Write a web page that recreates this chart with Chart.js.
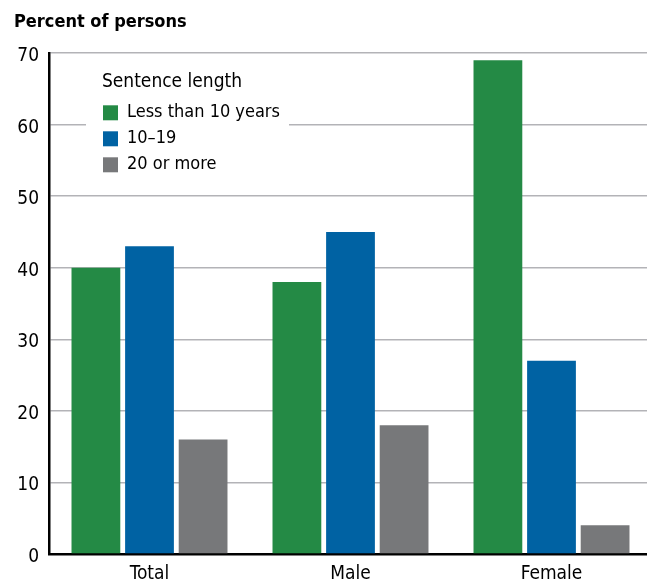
<!DOCTYPE html>
<html><head><meta charset="utf-8">
<script src="https://cdn.jsdelivr.net/npm/chart.js@4"></script>
<style>html,body{margin:0;padding:0;background:#fff;overflow:hidden;width:647px;height:584px}
#wrap{width:653px;height:584px}</style></head>
<body><div id="wrap"><canvas id="c" width="653" height="584"></canvas></div>
<script>
const categories = ['Total', 'Male', 'Female'];
const seriesNames = ['Less than 10 years', '10–19', '20 or more'];
const lessThan10 = [40, 38, 69];
const tenTo19 = [43, 45, 27];
const twentyPlus = [16, 18, 4];
const yTicks = [0, 10, 20, 30, 40, 50, 60, 70];
const colors = ['#248A45', '#0062A3', '#77787A'];
const FONT = "'Liberation Sans Narrow','DejaVu Sans Condensed',sans-serif";

const legendPlace = {
  id: 'legendPlace',
  afterLayout(chart) {
    const lg = chart.legend;
    lg.left = 95; lg.top = 58; lg.width = 154; lg.right = 300; lg.height = 125; lg.bottom = 183;
    chart._layers.push({z: -0.5, _idx: 999, draw() {
      const ctx = chart.ctx; ctx.save(); ctx.fillStyle = '#fff';
      ctx.fillRect(86, 58, 203, 124); ctx.restore();
    }});
  }
};

const series = [lessThan10, tenTo19, twentyPlus];
new Chart(document.getElementById('c'), {
  type: 'bar',
  data: {
    labels: categories,
    datasets: series.map((d, i) => ({
      label: seriesNames[i], data: d, backgroundColor: colors[i], borderWidth: 0,
      barPercentage: 0.91, categoryPercentage: 0.80
    }))
  },
  options: {
    responsive: false, animation: false, devicePixelRatio: 1,
    layout: {padding: {left: 14, right: 1, top: 0, bottom: 0}},
    scales: {
      x: {
        grid: {drawOnChartArea: false, drawTicks: false},
        border: {color: '#000', width: 2.5},
        afterFit: s => { s.height = 30; },
        ticks: {font: {family: FONT, size: 19}, color: '#000', padding: 9, maxRotation: 0, autoSkip: false}
      },
      y: {
        min: 0, max: 70,
        afterBuildTicks: s => { s.ticks = yTicks.map(v => ({value: v})); },
        afterFit: s => { s.width = 35; },
        grid: {color: '#b3b3b7', lineWidth: 1.5, drawTicks: false, z: -1},
        border: {color: '#000', width: 2.5},
        ticks: {font: {family: FONT, size: 19}, color: '#000', padding: 10, labelOffset: 3}
      }
    },
    plugins: {
      title: {display: true, text: 'Percent of persons', align: 'start',
        font: {family: FONT, size: 18, weight: 'bold'}, color: '#000', padding: {top: 12, bottom: 19.4}},
      legend: {
        position: 'chartArea', align: 'start',
        title: {display: true, text: 'Sentence length', position: 'center',
          font: {family: FONT, size: 19}, color: '#000', padding: {top: 15, bottom: 0}},
        labels: {font: {family: FONT, size: 18}, color: '#000', boxWidth: 15, boxHeight: 15, padding: 8}
      },
      tooltip: {enabled: false}
    }
  },
  plugins: [legendPlace]
});
</script></body></html>
